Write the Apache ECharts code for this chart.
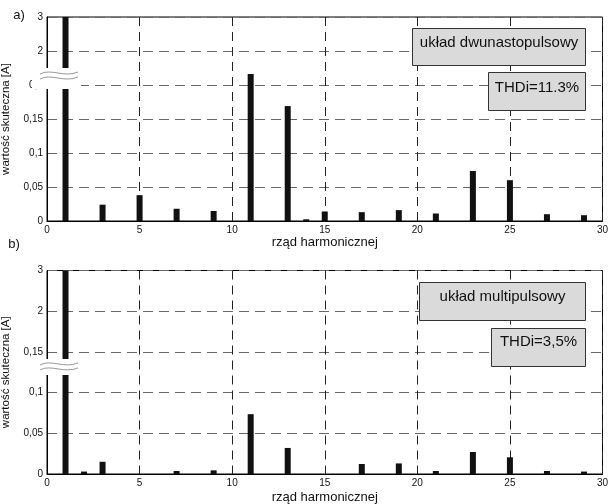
<!DOCTYPE html>
<html><head><meta charset="utf-8">
<script src="https://cdn.jsdelivr.net/npm/echarts@6/dist/echarts.min.js"></script>
<style>html,body{margin:0;padding:0;background:#fff}#c{width:608px;height:504px}</style>
</head><body><div id="c"></div>
<script>
// ---- data ----
var harmonicsA = [1, 3, 5, 7, 9, 11, 13, 14, 15, 17, 19, 21, 23, 25, 27, 29];
var valuesA    = [3, 0.024, 0.038, 0.018, 0.0147, 0.216, 0.169, 0.0025, 0.014, 0.013, 0.016, 0.011, 0.0735, 0.060, 0.010, 0.0085];
var harmonicsB = [1, 2, 3, 7, 9, 11, 13, 17, 19, 21, 23, 25, 27, 29];
var valuesB    = [3, 0.003, 0.015, 0.0037, 0.0045, 0.0735, 0.032, 0.0123, 0.013, 0.0037, 0.027, 0.0205, 0.0037, 0.003];
var yTicksA = ['0', '0,05', '0,1', '0,15', '0,2', '2', '3'];
var yTicksB = ['0', '0,05', '0,1', '0,15', '2', '3'];
var lowTopA = 0.2, lowTopB = 0.15, lowStep = 0.05;
var titleA = 'układ dwunastopulsowy', thdA = 'THDi=11.3%';
var titleB = 'układ multipulsowy', thdB = 'THDi=3,5%';
var xName = 'rząd harmonicznej', yName = 'wartość skuteczna [A]';

var FONT = '"Liberation Sans", Arial, sans-serif';
function toDisplay(v, lowTop) {
  return v < 0.5 ? v / lowStep : lowTop / lowStep + (v - 1);
}
function mkX(gi, gap) {
  return {
    type: 'value', gridIndex: gi, min: 0, max: 30, interval: 5,
    name: xName, nameLocation: 'middle', nameGap: gap,
    nameTextStyle: {fontFamily: FONT, fontSize: 13, color: '#111'},
    axisLine: {lineStyle: {color: '#000', width: 1}},
    axisTick: {show: false},
    axisLabel: {fontFamily: FONT, fontSize: 10, color: '#111', margin: 4},
    splitLine: {show: true, lineStyle: {color: '#222', type: [9, 6], width: 1}}
  };
}
function mkY(gi, ticks) {
  return {
    type: 'value', gridIndex: gi, min: 0, max: ticks.length - 1, interval: 1,
    name: yName, nameLocation: 'middle', nameGap: 35, nameRotate: 90,
    nameTextStyle: {fontFamily: FONT, fontSize: 11.5, color: '#111'},
    axisLine: {show: true, lineStyle: {color: '#000', width: 1}},
    axisTick: {show: false},
    axisLabel: {fontFamily: FONT, fontSize: 10, color: '#111', margin: 4,
      formatter: function (v) { return ticks[Math.round(v)]; }},
    splitLine: {show: true, lineStyle: {color: '#666', type: [10, 6], width: 1}}
  };
}
var chart = echarts.init(document.getElementById('c'), null, {renderer: 'canvas'});
chart.setOption({
  animation: false,
  backgroundColor: '#fff',
  grid: [
    {left: 47, top: 17, width: 555.5, height: 204, show: true, borderColor: '#000', borderWidth: 1,
     containLabel: false, outerBoundsMode: 'none'},
    {left: 47, top: 270.5, width: 555.5, height: 203.5, show: true, borderColor: '#000', borderWidth: 1,
     containLabel: false, outerBoundsMode: 'none'}
  ],
  xAxis: [mkX(0, 15), mkX(1, 17)],
  yAxis: [mkY(0, yTicksA), mkY(1, yTicksB)],
  series: [
    {type: 'bar', xAxisIndex: 0, yAxisIndex: 0, barWidth: 6, itemStyle: {color: '#111'},
     data: harmonicsA.map(function (h, i) { return [h, toDisplay(valuesA[i], lowTopA)]; })},
    {type: 'bar', xAxisIndex: 1, yAxisIndex: 1, barWidth: 6, itemStyle: {color: '#111'},
     data: harmonicsB.map(function (h, i) { return [h, toDisplay(valuesB[i], lowTopB)]; })}
  ]
});

function wave(y) {
  return {type: 'bezierCurve', z: 101,
    shape: {x1: 40, y1: y + 1, cpx1: 51, cpy1: y - 5, cpx2: 64, cpy2: y + 5, x2: 78, y2: y - 1},
    style: {stroke: '#999', lineWidth: 1, fill: null}};
}
function box(x1, y1, x2, y2, txt, ty) {
  return [
    {type: 'rect', z: 100, shape: {x: x1, y: y1, width: x2 - x1, height: y2 - y1},
     style: {fill: '#dadada', stroke: '#333', lineWidth: 1}},
    {type: 'text', z: 101, x: (x1 + x2) / 2, y: ty,
     style: {text: txt, fontFamily: FONT, fontSize: 15, fill: '#111', align: 'center', verticalAlign: 'middle'}}
  ];
}
var gyA = chart.convertToPixel({yAxisIndex: 0}, lowTopA / lowStep);
var gyB = chart.convertToPixel({yAxisIndex: 1}, lowTopB / lowStep);
var g = [];
// break marks
g.push({type: 'rect', z: 100, shape: {x: 32, y: gyA - 17, width: 49, height: 21}, style: {fill: '#fff'}});
g.push(wave(gyA - 12), wave(gyA - 7));
g.push({type: 'rect', z: 100, shape: {x: 33, y: gyB + 7, width: 48, height: 16}, style: {fill: '#fff'}});
g.push(wave(gyB + 12), wave(gyB + 17));
// annotation boxes
g = g.concat(box(412.5, 28.5, 585.5, 65.5, titleA, 43));
g = g.concat(box(488.5, 72.5, 585.5, 110.5, thdA, 87.5));
g = g.concat(box(419.5, 282.5, 585.5, 320.5, titleB, 297));
g = g.concat(box(491.5, 328.5, 585.5, 366.5, thdB, 341.5));
// panel letters
g.push({type: 'text', z: 101, x: 19, y: 15, style: {text: 'a)', fontFamily: FONT, fontSize: 13, fill: '#111', align: 'center', verticalAlign: 'middle'}});
g.push({type: 'text', z: 101, x: 14, y: 244, style: {text: 'b)', fontFamily: FONT, fontSize: 13, fill: '#111', align: 'center', verticalAlign: 'middle'}});
chart.setOption({graphic: g});
</script></body></html>
